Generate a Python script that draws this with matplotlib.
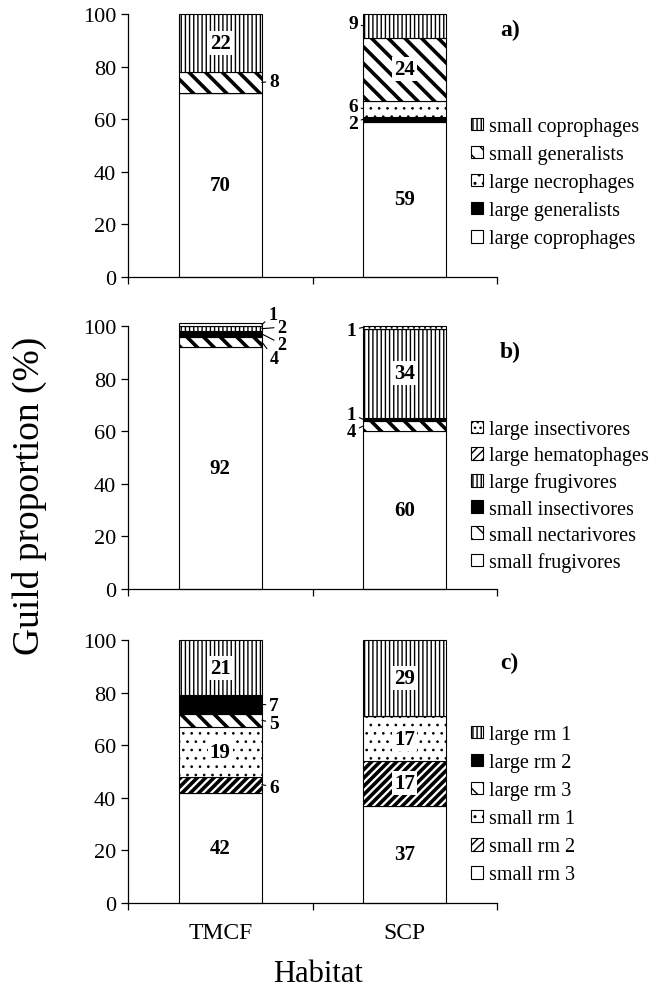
import numpy as np
import matplotlib
matplotlib.use("Agg")
import matplotlib.pyplot as plt

plt.rcParams['font.family'] = ['Liberation Serif', 'DejaVu Serif']
plt.rcParams['hatch.linewidth'] = 1.0

habitats = ["TMCF", "SCP"]

# panel a) dung beetles, bottom -> top of stack
guilds_a = ["large coprophages", "large generalists", "large necrophages",
            "small generalists", "small coprophages"]
tmcf_a = [70, 0, 0, 8, 22]
scp_a = [59, 2, 6, 24, 9]

# panel b) bats
guilds_b = ["small frugivores", "small nectarivores", "small insectivores",
            "large frugivores", "large hematophages", "large insectivores"]
tmcf_b = [92, 4, 2, 2, 0, 1]
scp_b = [60, 4, 1, 34, 0, 1]

# panel c) rodents
guilds_c = ["small rm 3", "small rm 2", "small rm 1",
            "large rm 3", "large rm 2", "large rm 1"]
tmcf_c = [42, 6, 19, 5, 7, 21]
scp_c = [37, 17, 17, 0, 0, 29]

# fill style for each guild (face colour, hatch)
style_a = [("white", ""), ("black", ""), ("white", ".."),
           ("white", "\\\\"), ("white", "||||")]
style_b = [("white", ""), ("white", "\\\\"), ("black", ""),
           ("white", "||||"), ("white", "////"), ("white", "...")]
style_c = [("white", ""), ("white", "////"), ("white", ".."),
           ("white", "\\\\"), ("black", ""), ("white", "||||")]

# small outside labels: (bar, layer) -> (gap from bar edge, text y, size)
side_a = {(0, 3): (0.04, 74.5, 14), (1, 4): (0.03, 96.5, 14),
          (1, 2): (0.03, 65, 14), (1, 1): (0.03, 58.5, 14)}
side_b = {(0, 5): (0.035, 104.4, 13), (0, 3): (0.085, 99.6, 13),
          (0, 2): (0.085, 93.1, 13), (0, 1): (0.045, 87.5, 13),
          (1, 5): (0.04, 98.5, 14), (1, 2): (0.04, 66.5, 13.5),
          (1, 1): (0.04, 59.8, 13.5)}
side_c = {(0, 4): (0.04, 75.2, 14), (0, 3): (0.04, 68.3, 14),
          (0, 1): (0.04, 44, 14)}

fig = plt.figure(figsize=(6.7, 9.95), dpi=100)

# letter y, legend top (pixels from the top), legend row spacing
panels = [
    ("a)", guilds_a, [tmcf_a, scp_a], style_a, side_a, 0.7206, 30, 118, 0.45),
    ("b)", guilds_b, [tmcf_b, scp_b], style_b, side_b, 0.4070, 352, 421, 0.36),
    ("c)", guilds_c, [tmcf_c, scp_c], style_c, side_c, 0.0915, 663, 726, 0.45),
]

bar_w = 0.45
for letter, guilds, values, styles, side, bottom, let_y, leg_top, lsp in panels:
    ax = fig.add_axes([0.191, bottom, 0.551, 0.2643])
    vals = np.array(values, dtype=float)
    base = np.zeros(len(habitats))
    handles = []
    for k, name in enumerate(guilds):
        fc, hatch = styles[k]
        bars = ax.bar(np.arange(len(habitats)), vals[:, k], bar_w, bottom=base,
                      color=fc, edgecolor="black", hatch=hatch, linewidth=0.8,
                      label=name, clip_on=False)
        hlw = {"\\\\": 2.6, "////": 2.6, "..": 0.7, "...": 0.6}.get(hatch)
        if hlw:
            for b in bars:
                if hasattr(b, "set_hatch_linewidth"):
                    b.set_hatch_linewidth(hlw)
        handles.append(bars)
        for i in range(len(habitats)):
            v = vals[i, k]
            mid = base[i] + v / 2
            if v >= 15:
                ax.text(i, mid, f"{v:.0f}", ha="center", va="center",
                        fontsize=15, fontweight="bold",
                        bbox=dict(facecolor="white", edgecolor="none", pad=1.5))
            elif (i, k) in side:
                gap, ty, fs = side[(i, k)]
                if i == 0:
                    x0, tx, ha = i + bar_w / 2, i + bar_w / 2 + gap, "left"
                else:
                    x0, tx, ha = i - bar_w / 2, i - bar_w / 2 - gap, "right"
                ax.annotate(f"{v:.0f}", xy=(x0, mid), xytext=(tx, ty),
                            ha=ha, va="center", fontsize=fs, fontweight="bold",
                            annotation_clip=False,
                            arrowprops=dict(arrowstyle="-", lw=0.8,
                                            shrinkA=0.5, shrinkB=0))
        base = base + vals[:, k]

    ax.set_ylim(0, 100)
    ax.set_xlim(-0.5, 1.5)
    ax.set_yticks(range(0, 101, 20))
    ax.set_xticks([-0.5, 0.5, 1.5])
    ax.set_xticklabels([])
    ax.set_xticks([0, 1], minor=True)
    ax.tick_params(axis="x", which="minor", length=0, labelsize=17, pad=14)
    if letter == "c)":
        ax.set_xticklabels(habitats, minor=True)
    ax.tick_params(axis="both", which="major", direction="out", length=5,
                   width=0.9, labelsize=16)
    for s in ("top", "right"):
        ax.spines[s].set_visible(False)
    for s in ("left", "bottom"):
        ax.spines[s].set_linewidth(0.9)

    fig.text(500 / 670, 1 - let_y / 995, letter, fontsize=17,
             fontweight="bold", ha="left", va="center")

    fig.legend(handles[::-1], guilds[::-1], loc="upper left",
               bbox_to_anchor=(471 / 670, 1 - leg_top / 995),
               frameon=False, fontsize=14.5, handlelength=0.6,
               handleheight=0.6, handletextpad=0.3, labelspacing=lsp,
               borderpad=0, borderaxespad=0)

fig.text(29 / 670, 1 - 496 / 995, "Guild proportion (%)", rotation=90,
         ha="center", va="center", fontsize=27)
fig.text(318 / 670, 1 - 975 / 995, "Habitat", ha="center", va="center",
         fontsize=22)

fig.savefig("out.png", dpi=100)
